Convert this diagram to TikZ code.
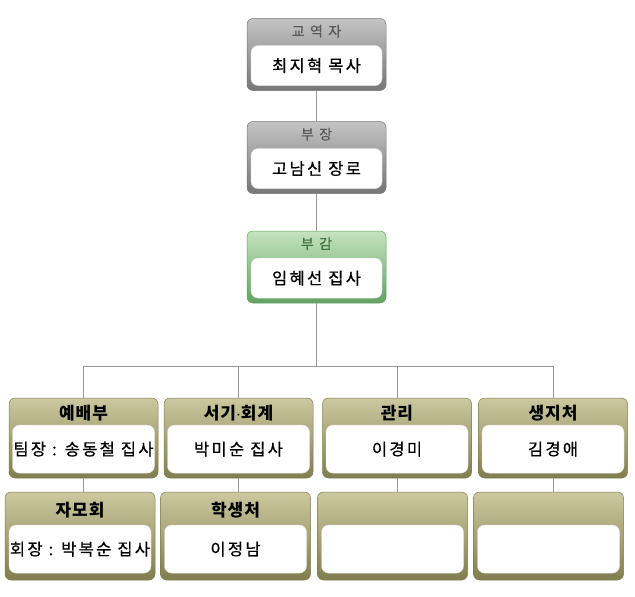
\documentclass[tikz,border=0pt]{standalone}
\usepackage{fontspec}
\setmainfont{Noto Sans CJK KR}
\usetikzlibrary{positioning,calc}
\definecolor{grytop}{RGB}{196,196,196}
\definecolor{grybot}{RGB}{118,118,118}
\definecolor{grntop}{RGB}{196,228,190}
\definecolor{grnbot}{RGB}{100,160,100}
\definecolor{olvtop}{RGB}{204,201,160}
\definecolor{olvbot}{RGB}{128,125,78}
\tikzset{
  orgbox/.style={rounded corners=6pt, draw=#1bot, line width=0.5pt,
    top color=#1top, bottom color=#1bot, inner sep=0pt},
  topbox/.style={orgbox=#1, minimum width=139pt, minimum height=72pt},
  rowbox/.style={orgbox=olv, minimum width=149pt, minimum height=80pt},
  lowbox/.style={orgbox=olv, minimum width=150pt, minimum height=88pt},
  inbox/.style={fill=white, draw=black!12, rounded corners=7pt, inner sep=0pt,
    font=\fontsize{16.5}{18}\selectfont\addfontfeature{LetterSpace=14,FakeBold=0.7}, anchor=south},
  tophd/.style={font=\fontsize{14}{16}\selectfont\addfontfeature{LetterSpace=16,FakeBold=0.7}, text=#1},
  rowhd/.style={font=\fontsize{17}{19}\selectfont\bfseries\addfontfeature{LetterSpace=6}},
  link/.style={draw=black!40, line width=0.9pt}
}

\begin{document}
\begin{tikzpicture}[x=1pt,y=-1pt]
    \useasboundingbox (0,0) rectangle (635,597);

    % ---- top of the chart
    \node[topbox=gry] (kyj) at (316.5,54.5) {};
    \node[topbox=gry] (bj)  at (316.5,157.5) {};
    \node[topbox=grn] (bg)  at (316.5,267) {};
    \foreach \n/\hd/\c in {kyj/교 역 자/black!65, bj/부 장/black!65, bg/부 감/black!60!green!50!gray}{
      \node[tophd=\c] (\n-hd) at ([yshift=-13pt]\n.north) {\hd};
    }
    \node[inbox, minimum width=131pt, minimum height=40pt] (kyj-in) at ([yshift=5pt]kyj.south) {최지혁 목사};
    \node[inbox, minimum width=131pt, minimum height=40pt] (bj-in)  at ([yshift=5pt]bj.south) {고남신 장로};
    \node[inbox, minimum width=131pt, minimum height=40pt] (bg-in)  at ([yshift=5pt]bg.south) {임혜선 집사};

    % ---- first row
    \node[rowbox] (yb) at (83.5,438) {};
    \node[rowbox] (sh) at (238.5,438) {};
    \node[rowbox] (gr) at (397,438) {};
    \node[rowbox] (sj) at (553,438) {};
    % ---- second row
    \node[lowbox] (jm) at (80,536) {};
    \node[lowbox] (hs) at (235.5,536) {};
    \node[lowbox] (e1) at (392.5,536) {};
    \node[lowbox] (e2) at (548.5,536) {};

    \foreach \n/\hd/\tx in {yb/예배부/팀장 : 송동철 집사, sh/서기$\cdot$회계/박미순 집사, gr/관리/이경미, sj/생지처/김경애}{
      \node[rowhd] (\n-hd) at ([yshift=-15pt]\n.north) {\hd};
      \node[inbox, minimum width=142pt, minimum height=48pt] (\n-in) at ([yshift=5pt]\n.south) {\tx};
    }
    \foreach \n/\hd/\tx in {jm/자모회/회장 : 박복순 집사, hs/학생처/이정남, e1//, e2//}{
      \node[rowhd] (\n-hd) at ([yshift=-18pt]\n.north) {\hd};
      \node[inbox, minimum width=142pt, minimum height=48pt] (\n-in) at ([yshift=7pt]\n.south) {\tx};
    }

    % ---- connectors
    \coordinate (bus) at (316.5,366);
    \draw[link] (kyj) -- (bj);
    \draw[link] (bj) -- (bg);
    \draw[link] (bg) -- (bus);
    \draw[link] (yb.north |- bus) -- (sj.north |- bus);
    \foreach \a/\b in {yb/jm, sh/hs, gr/e1, sj/e2}{
      \draw[link] (\a.north) -- (\a.north |- bus);
      \draw[link] (\a.south) -- (\a.south |- \b.north);
    }
\end{tikzpicture}
\end{document}
